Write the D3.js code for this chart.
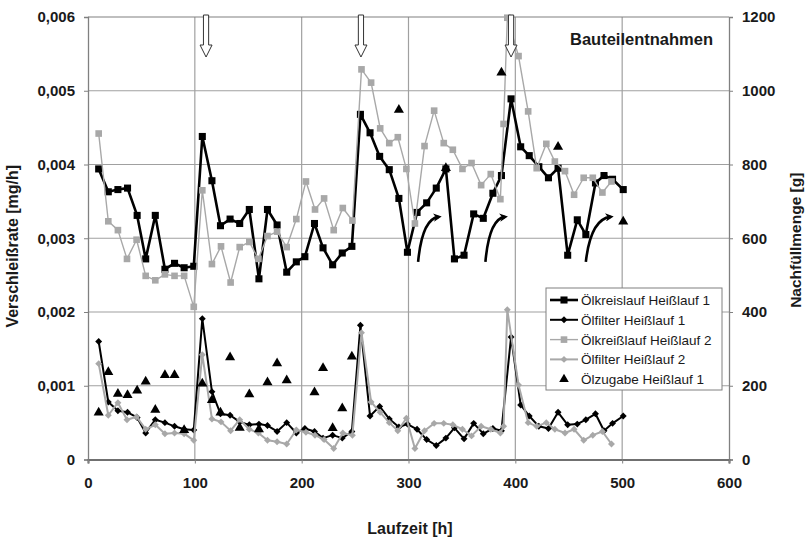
<!DOCTYPE html>
<html><head><meta charset="utf-8">
<script src="https://cdn.jsdelivr.net/npm/d3@7"></script>
<style>
body{margin:0;background:#fff}
svg{display:block}
text{font-family:"Liberation Sans",Arial,sans-serif}
</style>
</head><body>
<svg id="chart" width="805" height="542"></svg>
<script>
// ---------------- data ----------------
const timesHL1 = [10,19,28,37,46,54,63,72,81,90,99,107,116,124,133,142,151,160,168,177,186,195,203,212,220,229,238,247,255,264,273,282,291,299,308,317,326,335,343,352,361,370,379,387,396,405,413,422,431,440,449,458,466,475,483,491,501];
const oelkreislaufHL1 = [3.94,3.63,3.66,3.68,3.31,2.72,3.31,2.58,2.66,2.60,2.62,4.38,3.78,3.17,3.26,3.20,3.39,2.45,3.39,3.18,2.54,2.68,2.75,3.20,2.87,2.64,2.80,2.89,4.68,4.43,4.11,3.93,3.54,2.81,3.35,3.48,3.68,3.94,2.72,2.77,3.33,3.27,3.61,3.85,4.89,4.24,4.12,3.97,3.82,3.95,2.77,3.25,3.05,3.75,3.85,3.80,3.66].map(v => v / 1000);
const oelfilterHL1 = [1.60,0.78,0.66,0.64,0.57,0.36,0.54,0.50,0.45,0.41,0.40,1.91,0.92,0.62,0.60,0.51,0.47,0.48,0.46,0.38,0.50,0.36,0.42,0.38,0.29,0.33,0.29,0.38,1.82,0.59,0.72,0.55,0.44,0.48,0.41,0.27,0.19,0.29,0.43,0.28,0.49,0.35,0.42,0.39,1.66,0.74,0.59,0.45,0.42,0.64,0.47,0.48,0.54,0.62,0.39,0.49,0.59].map(v => v / 1000);

const timesHL2 = [10,19,28,36.5,45.5,54,63,72,81,90,99,107,116,124.5,133.5,142,151,159.5,168,177,186,195,204,212.5,221,230,238.5,247.5,256,265,273.5,282,290,298,306,315,324,333,341.5,350.5,359,368,377,386,389,392.5,403,412,420,429,437,446.5,455,464,472.5,481.5,490];
const oelkreislaufHL2 = [4.42,3.23,3.11,2.72,2.98,2.49,2.43,2.51,2.49,2.49,2.07,3.65,2.65,2.89,2.40,2.88,2.95,2.72,3.03,3.09,2.88,3.26,3.77,3.39,3.54,3.11,3.41,3.24,5.29,5.11,4.49,4.29,4.37,3.94,3.20,4.25,4.73,4.29,4.20,3.94,4.02,3.72,3.87,3.53,4.55,5.99,5.47,4.72,3.95,4.28,4.04,3.91,3.59,3.82,3.82,3.62,3.77].map(v => v / 1000);
const oelfilterHL2 = [1.30,0.60,0.77,0.54,0.58,0.41,0.47,0.35,0.36,0.35,0.26,1.42,0.55,0.51,0.39,0.54,0.41,0.36,0.26,0.24,0.21,0.40,0.37,0.33,0.27,0.15,0.36,0.33,1.72,0.78,0.64,0.50,0.39,0.56,0.15,0.39,0.49,0.49,0.47,0.41,0.32,0.45,0.41,0.36,0.45,2.03,1.01,0.50,0.45,0.50,0.41,0.36,0.41,0.26,0.33,0.38,0.21].map(v => v / 1000);

const zugabeTimes = [10,19,28,37,46,54,63,72,81,90,107,116,124,133,142,151,160,168,177,186,212,220,229,238,247,291,335,387,440,501];
const zugabeMengen = [127,237,178,175,187,211,135,229,229,80,206,161,127,277,86,177,82,209,261,215,182,248,85,139,279,948,790,1049,848,645];

const entnahmeTimes = [110.5, 255.5, 396];          // Bauteilentnahmen (hollow arrows)
const refillArrowStart = [[309, 0.00268], [372, 0.00268], [466, 0.00268]];
const refillArrowEnd   = [[328, 0.00329], [390, 0.00329], [489, 0.00329]];

const xTicks = [0,100,200,300,400,500,600];
const yLeftTicks = [0,0.001,0.002,0.003,0.004,0.005,0.006];
const yRightTicks = [0,200,400,600,800,1000,1200];

const seriesNames = ["Ölkreislauf Heißlauf 1","Ölfilter Heißlauf 1","Ölkreißlauf Heißlauf 2","Ölfilter Heißlauf 2","Ölzugabe Heißlauf 1"];

// ---------------- layout ----------------
const P = {left:88, right:729, top:17, bottom:459.5};
const x = d3.scaleLinear().domain([0,600]).range([P.left,P.right]);
const yL = d3.scaleLinear().domain([0,0.006]).range([P.bottom,P.top]);
const yR = d3.scaleLinear().domain([0,1200]).range([P.bottom,P.top]);
const svg = d3.select("#chart");
const GRAY = "#a8a8a8";

// grid
const grid = svg.append("g");
grid.selectAll(".hg").data(yLeftTicks.filter(d => d>0 && d<0.006)).enter().append("line")
  .attr("x1",P.left).attr("x2",P.right).attr("y1",d=>yL(d)).attr("y2",d=>yL(d))
  .attr("stroke","#a0a0a0").attr("stroke-width",1.2);
grid.selectAll(".vg").data(xTicks.filter(d => d>0 && d<600)).enter().append("line")
  .attr("x1",d=>x(d)).attr("x2",d=>x(d)).attr("y1",P.top).attr("y2",P.bottom)
  .attr("stroke","#a0a0a0").attr("stroke-width",1.2);
// top border
svg.append("line").attr("x1",P.left).attr("x2",P.right).attr("y1",P.top).attr("y2",P.top)
  .attr("stroke","#808080").attr("stroke-width",1.2);

// axes
const fmtL = d => d===0 ? "0" : d.toFixed(3).replace(".",",");
const axL = svg.append("g").attr("transform",`translate(${P.left},0)`)
  .call(d3.axisLeft(yL).tickValues(yLeftTicks).tickFormat(fmtL).tickSize(4).tickPadding(9));
const axR = svg.append("g").attr("transform",`translate(${P.right},0)`)
  .call(d3.axisRight(yR).tickValues(yRightTicks).tickFormat(d3.format("d")).tickSize(4).tickPadding(9));
const axB = svg.append("g").attr("transform",`translate(0,${P.bottom})`)
  .call(d3.axisBottom(x).tickValues(xTicks).tickFormat(d3.format("d")).tickSize(4).tickPadding(14));
[axL,axR,axB].forEach(a => {
  a.select(".domain").attr("stroke","#808080").attr("stroke-width",1.3);
  a.selectAll(".tick line").attr("stroke","#808080");
  a.selectAll("text").attr("font-size",15).attr("font-weight","bold").attr("fill","#1a1a1a")
    .style("font-family","'Liberation Sans',Arial,sans-serif");
});
axB.select(".domain").attr("stroke","#707070").attr("stroke-width",2.2);

// axis titles
svg.append("text").attr("x",410).attr("y",534).attr("text-anchor","middle")
  .attr("font-size",16).attr("font-weight","bold").attr("fill","#1a1a1a").text("Laufzeit [h]");
svg.append("text").attr("transform",`translate(18,${(P.top+P.bottom)/2+8}) rotate(-90)`)
  .attr("text-anchor","middle").attr("font-size",16).attr("font-weight","bold").attr("fill","#1a1a1a")
  .text("Verschleißrate [mg/h]");
svg.append("text").attr("transform",`translate(801,${(P.top+P.bottom)/2+2}) rotate(-90)`)
  .attr("text-anchor","middle").attr("font-size",15.5).attr("font-weight","bold").attr("fill","#1a1a1a")
  .text("Nachfüllmenge [g]");
svg.append("text").attr("x",713).attr("y",45).attr("text-anchor","end")
  .attr("font-size",16.5).attr("font-weight","bold").attr("fill","#1a1a1a").text("Bauteilentnahmen");

// series helpers
function drawSeries(times, vals, opt){
  const pts = times.map((t,i)=>[t,vals[i]]);
  const g = svg.append("g");
  g.append("path").datum(pts)
    .attr("d", d3.line().x(d=>x(d[0])).y(d=>yL(d[1])))
    .attr("fill","none").attr("stroke",opt.color).attr("stroke-width",opt.lw).attr("stroke-linejoin","round");
  g.selectAll("path.m").data(pts).enter().append("path").attr("class","m")
    .attr("d", d3.symbol().type(d3.symbolSquare).size(opt.size)())
    .attr("transform", d=>`translate(${x(d[0])},${yL(d[1])})${opt.diamond?" rotate(45)":""}`)
    .attr("fill",opt.color);
}
const styles = [
  {color:"#000", lw:2.6, size:50, diamond:false},
  {color:"#000", lw:2.0, size:24, diamond:true},
  {color:GRAY, lw:1.4, size:44, diamond:false},
  {color:GRAY, lw:2.0, size:24, diamond:true}
];
drawSeries(timesHL1, oelkreislaufHL1, styles[0]);
drawSeries(timesHL1, oelfilterHL1, styles[1]);
drawSeries(timesHL2, oelkreislaufHL2, styles[2]);
drawSeries(timesHL2, oelfilterHL2, styles[3]);

// triangles (right axis)
const tri = d3.symbol().type(d3.symbolTriangle).size(44);
svg.append("g").selectAll("path").data(zugabeTimes.map((t,i)=>[t,zugabeMengen[i]])).enter().append("path")
  .attr("d", tri()).attr("transform", d=>`translate(${x(d[0])},${yR(d[1])})`).attr("fill","#000");

// hollow "Bauteilentnahmen" arrows
const arrowShape = [[-2.6,-2],[2.6,-2],[2.6,28],[6,28],[0,40],[-6,28],[-2.6,28]];
svg.append("g").selectAll("path").data(entnahmeTimes).enter().append("path")
  .attr("d", d3.line()(arrowShape) + "Z")
  .attr("transform", d=>`translate(${x(d)},${P.top})`)
  .attr("fill","#fff").attr("stroke","#333").attr("stroke-width",1);

// curved refill arrows
const defs = svg.append("defs");
defs.append("marker").attr("id","ah").attr("viewBox","0 0 10 10").attr("refX",6).attr("refY",5)
  .attr("markerWidth",3.2).attr("markerHeight",3.2).attr("orient","auto")
  .append("path").attr("d","M0,0 L10,5 L0,10 L3,5 Z").attr("fill","#000");
svg.append("g").selectAll("path").data(refillArrowStart.map((s,i)=>[s,refillArrowEnd[i]])).enter().append("path")
  .attr("d", d=>{
    const sx=x(d[0][0]), sy=yL(d[0][1]), ex=x(d[1][0]), ey=yL(d[1][1]);
    const cx = sx + (ex-sx)*0.2, cy = ey + (sy-ey)*0.05;
    return `M${sx},${sy} Q${cx},${cy} ${ex},${ey}`;
  })
  .attr("fill","none").attr("stroke","#000").attr("stroke-width",2.6).attr("marker-end","url(#ah)");

// legend
const lg = svg.append("g").attr("transform","translate(546,288)");
lg.append("rect").attr("width",176).attr("height",102).attr("fill","#fff").attr("stroke","#808080").attr("stroke-width",1);
const legendStyles = styles.concat([{tri:true}]);
seriesNames.forEach((name,i)=>{
  const yy = 12 + i*19.8;
  const s = legendStyles[i];
  if(!s.tri){
    lg.append("line").attr("x1",4).attr("x2",32).attr("y1",yy).attr("y2",yy)
      .attr("stroke",s.color).attr("stroke-width",s.lw);
    lg.append("path").attr("d", d3.symbol().type(d3.symbolSquare).size(s.size)())
      .attr("transform",`translate(18,${yy})${s.diamond?" rotate(45)":""}`).attr("fill",s.color);
  } else {
    lg.append("path").attr("d", d3.symbol().type(d3.symbolTriangle).size(40)())
      .attr("transform",`translate(18,${yy})`).attr("fill","#000");
  }
  lg.append("text").attr("x",35).attr("y",yy+5).attr("font-size",13.5).attr("fill","#1a1a1a").text(name);
});
</script>
</body></html>
